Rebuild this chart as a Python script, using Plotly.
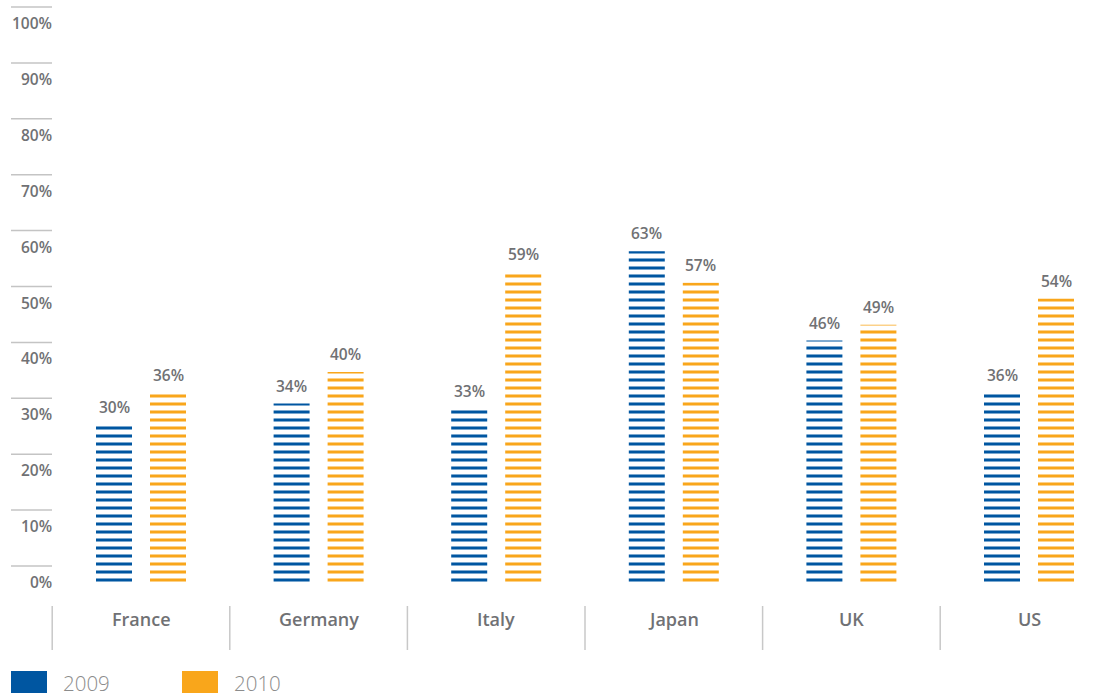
import plotly.graph_objects as go

countries = ["France", "Germany", "Italy", "Japan", "UK", "US"]
years = ["2009", "2010"]
values_2009 = [30, 34, 33, 63, 46, 36]
values_2010 = [36, 40, 59, 57, 49, 54]
tick_values = [0, 10, 20, 30, 40, 50, 60, 70, 80, 90, 100]
tick_labels = [f"{v}%" for v in tick_values]

BLUE = "#0056a1"
ORANGE = "#f9a61b"
GREY = "#707174"
W, H = 1114, 697

plot_bottom = 582          # px of bar baseline
px_per_unit_x = 177.6
center0 = 141
dom_left = 45
bar_w = 36 / px_per_unit_x
off_2009 = -45 / px_per_unit_x
off_2010 = 9 / px_per_unit_x

def py(p):  # pixel y -> paper y
    return (plot_bottom - p) / plot_bottom

fig = go.Figure()
shapes = []
annotations = []
x_idx = list(range(len(countries)))
for name, vals, col, off in [(years[0], values_2009, BLUE, off_2009),
                             (years[1], values_2010, ORANGE, off_2010)]:
    fig.add_trace(go.Bar(
        x=x_idx, y=vals, name=name, width=bar_w, offset=off,
        marker=dict(color=col, line=dict(width=0),
                    pattern=dict(shape="-", size=8, solidity=0.38,
                                 fgcolor=col, bgcolor="rgba(0,0,0,0)",
                                 fillmode="replace")),
        hoverinfo="skip", showlegend=False))
    for i, v in zip(x_idx, vals):
        annotations.append(dict(x=i + off + bar_w / 2, y=v, xref="x", yref="y",
                                text=f"{v}%", showarrow=False, yanchor="middle",
                                yshift=18,
                                font=dict(family="Open Sans", size=15.5, color=GREY, weight=600)))

# left axis tick marks and labels
for v, lab in zip(tick_values, tick_labels):
    shapes.append(dict(type="line", xref="paper", yref="y2",
                       x0=11 / W, x1=52 / W, y0=v, y1=v,
                       line=dict(color="#c4c4c4", width=1.5)))
    annotations.append(dict(xref="paper", yref="y2", x=53.5 / W, y=v,
                            xanchor="right", yanchor="middle", yshift=-16,
                            text=lab, showarrow=False,
                            font=dict(family="Open Sans", size=15.5, color=GREY, weight=600)))
# category separators and labels
for i, c in enumerate(countries):
    shapes.append(dict(type="line", xref="x", yref="paper",
                       x0=i - 0.5, x1=i - 0.5, y0=py(606), y1=py(650),
                       line=dict(color="#c8c8c8", width=1.5)))
    annotations.append(dict(xref="x", yref="paper", x=i, y=py(619),
                            xanchor="center", yanchor="middle", text=c,
                            showarrow=False,
                            font=dict(family="Open Sans", size=18, color=GREY, weight=600)))
# legend
for name, col, x0 in [(years[0], BLUE, 11), (years[1], ORANGE, 182)]:
    shapes.append(dict(type="rect", xref="paper", yref="paper",
                       x0=x0 / W, x1=(x0 + 36) / W, y0=py(671), y1=py(693),
                       fillcolor=col, line=dict(width=0)))
    annotations.append(dict(xref="paper", yref="paper", x=(x0 + 50) / W, y=py(683),
                            xanchor="left", yanchor="middle", text=name,
                            showarrow=False,
                            font=dict(family="Open Sans", size=20.5, color="#8c8c8c", weight=300)))

fig.update_layout(
    width=W, height=H,
    margin=dict(l=0, r=0, t=0, b=H - plot_bottom, pad=0),
    paper_bgcolor="white", plot_bgcolor="white",
    barmode="overlay",
    showlegend=False,
    xaxis=dict(domain=[dom_left / W, 1],
               range=[(dom_left - center0) / px_per_unit_x, (W - center0) / px_per_unit_x],
               showgrid=False, zeroline=False, showticklabels=False, ticks="",
               showline=False),
    yaxis=dict(range=[0, plot_bottom / 5.25], visible=False, showgrid=False),
    yaxis2=dict(range=[-16 / 5.59, -16 / 5.59 + plot_bottom / 5.59], overlaying="y",
                visible=False, showgrid=False),
    shapes=shapes,
    annotations=annotations,
)

fig.write_html("out.html")
